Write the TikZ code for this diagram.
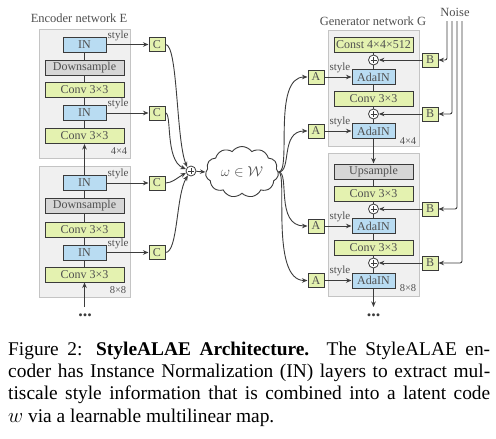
\documentclass[tikz,border=0pt]{standalone}
\usepackage{fontspec}
\setmainfont{Liberation Serif}
\usetikzlibrary{shapes.symbols,arrows.meta}
\definecolor{txtgray}{HTML}{505050}
\definecolor{boxline}{HTML}{3A3A3A}
\definecolor{inblue}{HTML}{B9DCF2}
\definecolor{convgreen}{HTML}{E4F2B0}
\definecolor{dsgray}{HTML}{D6D6D6}
\definecolor{blockfill}{HTML}{F0F0F0}
\definecolor{blockline}{HTML}{C4C4C4}
\definecolor{lineclr}{HTML}{3C3C3C}
\begin{document}
\begin{tikzpicture}[x=1pt,y=-1pt,
 lbl/.style={text=txtgray,inner sep=0pt,font=\fontsize{12.5}{12.5}\selectfont},
 stylelbl/.style={text=txtgray,inner sep=0pt,font=\fontsize{11}{11}\selectfont},
 sizelbl/.style={text=txtgray,inner sep=0pt,font=\fontsize{10.5}{10.5}\selectfont},
 box/.style={draw=boxline,line width=1pt,inner sep=0pt,text=txtgray,font=\fontsize{12}{12}\selectfont},
 inbox/.style={box,fill=inblue,minimum width=43pt,minimum height=15pt},
 widebox/.style={box,fill=convgreen,minimum width=79pt,minimum height=15pt},
 graybox/.style={box,fill=dsgray,minimum width=79pt,minimum height=15pt},
 smallbox/.style={box,fill=convgreen,minimum width=16pt,minimum height=14pt},
 block/.style={draw=blockline,fill=blockfill,line width=0.8pt},
 arr/.style={-{Stealth[length=5.5pt,width=4.5pt]},line width=0.9pt,draw=lineclr},
 conn/.style={line width=0.9pt,draw=lineclr},
 plusc/.style={circle,draw=lineclr,fill=white,line width=0.8pt,minimum size=10pt,inner sep=0pt,
   path picture={\draw[lineclr,line width=0.6pt]
     ([xshift=-3pt]path picture bounding box.center) -- ([xshift=3pt]path picture bounding box.center)
     ([yshift=-3pt]path picture bounding box.center) -- ([yshift=3pt]path picture bounding box.center);}},
 dots/.style={inner sep=0pt,text=boxline,font=\fontsize{18}{18}\selectfont\bfseries},
]
\useasboundingbox (0,0) rectangle (496,439);
\fill[white] (0,0) rectangle (496,439);

% ---------------- Encoder ----------------
\node[lbl] (etitle) at (79,18) {Encoder network E};
\draw[block] (39,29) rectangle (130,158);
\draw[block] (39,166) rectangle (130,297);
\node[sizelbl] (e1size) at (119,151) {4×4};
\node[sizelbl] (e2size) at (118,290) {8×8};

\node[inbox]   (e1in)  at (84.5,44.5) {IN};
\node[graybox] (e1ds)  at (84.5,68) {Downsample};
\node[widebox] (e1cv)  at (84.5,90) {Conv 3×3};
\node[inbox]   (e1in2) at (84.5,113) {IN};
\node[widebox] (e1cv2) at (84.5,136) {Conv 3×3};

\node[inbox]   (e2in)  at (84.5,183) {IN};
\node[graybox] (e2ds)  at (84.5,206) {Downsample};
\node[widebox] (e2cv)  at (84.5,229.5) {Conv 3×3};
\node[inbox]   (e2in2) at (84.5,252.5) {IN};
\node[widebox] (e2cv2) at (84.5,274.5) {Conv 3×3};

\draw[conn] (e1in) -- (e1ds) -- (e1cv) -- (e1in2) -- (e1cv2);
\draw[conn] (e2in) -- (e2ds) -- (e2cv) -- (e2in2) -- (e2cv2);
\draw[arr] (e2in) -- (e1cv2);
\coordinate (ein) at (84.5,307);
\draw[arr] (ein) -- (e2cv2);
\node[dots] (edots) at (85,315) {...};

\node[smallbox] (c1) at (157,44.5) {C};
\node[smallbox] (c2) at (157,113) {C};
\node[smallbox] (c3) at (157,183) {C};
\node[smallbox] (c4) at (157,252.5) {C};

\foreach \i/\c in {e1in/c1,e1in2/c2,e2in/c3,e2in2/c4}{
  \draw[arr] (\i) -- (\c);
  \node[stylelbl,anchor=base west] at ([xshift=1pt,yshift=-1.5pt]\i.north east) {style};
}

\node[plusc] (ep) at (191,171) {};
\draw[arr] (c1.east) .. controls (178,44.5) and (176,140) .. (ep.north west);
\draw[arr] (c2.east) .. controls (172,113) and (165,160) .. (ep.160);
\draw[arr] (c3.east) .. controls (172,183) and (177,178) .. (ep.200);
\draw[arr] (c4.east) .. controls (178,252.5) and (176,195) .. (ep.235);

% ---------------- Latent ----------------
\node[cloud,cloud puffs=11,cloud puff arc=110,aspect=1.45,draw=lineclr,line width=0.9pt,
  minimum width=73pt,minimum height=51pt,inner sep=0pt,text=txtgray,
  font=\fontsize{15}{15}\selectfont] (w) at (242,172) {$\omega\in\mathcal{W}$};
\draw[arr] (ep) -- (w.west);

% ---------------- Generator ----------------
\node[lbl] (gtitle) at (373,21) {Generator network G};
\node[lbl] (noise) at (455,12) {Noise};
\draw[block] (328,30) rectangle (419,146);
\draw[block] (328,153) rectangle (419,296);
\node[sizelbl] (g1size) at (408,141) {4×4};
\node[sizelbl] (g2size) at (408,288) {8×8};

\node[widebox] (const) at (373.5,44.5) {Const 4×4×512};
\node[plusc]   (gp1)   at (373.5,60) {};
\node[inbox]   (ada1)  at (373.5,77) {AdaIN};
\node[widebox] (gcv1)  at (373.5,99) {Conv 3×3};
\node[plusc]   (gp2)   at (373.5,114) {};
\node[inbox]   (ada2)  at (373.5,131) {AdaIN};

\node[graybox] (up)    at (373.5,171.5) {Upsample};
\node[widebox] (gcv2)  at (373.5,193.5) {Conv 3×3};
\node[plusc]   (gp3)   at (373.5,209) {};
\node[inbox]   (ada3)  at (373.5,226) {AdaIN};
\node[widebox] (gcv3)  at (373.5,247.5) {Conv 3×3};
\node[plusc]   (gp4)   at (373.5,263) {};
\node[inbox]   (ada4)  at (373.5,280.5) {AdaIN};

\draw[conn] (const) -- (gp1) -- (ada1) -- (gcv1) -- (gp2) -- (ada2);
\draw[arr] (ada2) -- (up);
\draw[conn] (up) -- (gcv2) -- (gp3) -- (ada3) -- (gcv3) -- (gp4) -- (ada4);
\coordinate (gout) at (373.5,307);
\draw[arr] (ada4) -- (gout);
\node[dots] (gdots) at (373.5,315) {...};

\node[smallbox] (a1) at (316,77) {A};
\node[smallbox] (a2) at (316,131) {A};
\node[smallbox] (a3) at (316,226) {A};
\node[smallbox] (a4) at (316,280.5) {A};
\foreach \a/\d in {a1/ada1,a2/ada2,a3/ada3,a4/ada4}{
  \draw[arr] (\a) -- (\d);
  \node[stylelbl,anchor=base east] at ([xshift=-1pt,yshift=-1pt]\d.north west) {style};
}

\node[smallbox] (b1) at (430,60) {B};
\node[smallbox] (b2) at (430,114) {B};
\node[smallbox] (b3) at (430,209) {B};
\node[smallbox] (b4) at (430,263) {B};
\foreach \b/\p in {b1/gp1,b2/gp2,b3/gp3,b4/gp4}{
  \draw[arr] (\b) -- (\p);
}
\coordinate (n1) at (447,21);
\coordinate (n2) at (452,21);
\coordinate (n3) at (457,21);
\coordinate (n4) at (462,21);
\draw[arr,rounded corners=2pt] (n1) |- (b1);
\draw[arr,rounded corners=2pt] (n2) |- (b2);
\draw[arr,rounded corners=2pt] (n3) |- (b3);
\draw[arr,rounded corners=2pt] (n4) |- (b4);

\draw[arr] (w.east) .. controls (292,172) and (272,77) .. (a1.west);
\draw[arr] (w.east) .. controls (292,172) and (280,131) .. (a2.west);
\draw[arr] (w.east) .. controls (290,172) and (275,226) .. (a3.west);
\draw[arr] (w.east) .. controls (288,172) and (270,280.5) .. (a4.west);

% ---------------- Caption ----------------
\node[anchor=north west,text width=482pt,align=justify,inner sep=0pt,
  font=\fontsize{19.4}{22.3}\selectfont] (cap) at (8,341.5)
 {Figure 2: \textbf{StyleALAE Architecture.} The StyleALAE en-\linebreak
  coder has Instance Normalization (IN) layers to extract mul-\linebreak
  tiscale style information that is combined into a latent code\linebreak
  $w$ via a learnable multilinear map.};
\end{tikzpicture}
\end{document}
